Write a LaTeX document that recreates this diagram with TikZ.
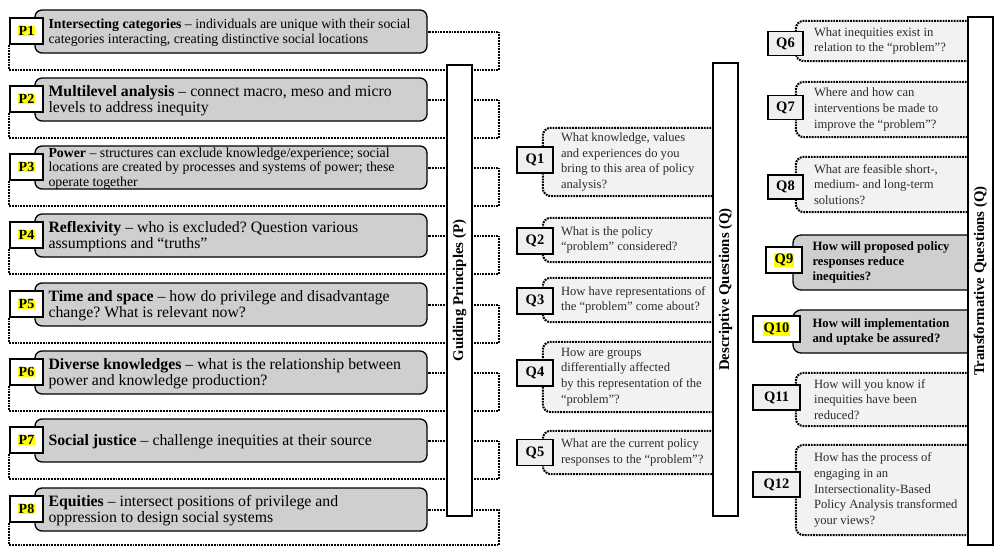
\documentclass[tikz,border=0pt]{standalone}
\usepackage{fontspec}
\setmainfont{Liberation Serif}
\definecolor{pgray}{HTML}{CFCFCF}
\definecolor{qfill}{HTML}{F2F2F2}
\definecolor{lblq}{HTML}{EFEFEF}
\definecolor{hly}{HTML}{FFFF00}
\definecolor{qtxt}{HTML}{2B2B2B}
\newcommand{\hlmark}[1]{{\setlength{\fboxsep}{0.6pt}\colorbox{hly}{#1}}}
\frenchspacing
\begin{document}
\begin{tikzpicture}[x=1pt,y=-1pt,
  pbox/.style={draw=black, line width=1.3pt, fill=pgray, rounded corners=7pt,
    minimum width=392pt, minimum height=43pt, inner sep=0pt},
  ptext/.style={anchor=west, align=left, inner sep=0pt},
  psmall/.style={font=\fontsize{13.8}{14.6}\selectfont},
  plarge/.style={font=\fontsize{15.8}{16}\selectfont},
  plabel/.style={draw=black, line width=1.7pt, fill=white, minimum width=33pt,
    minimum height=26pt, inner sep=0pt, font=\bfseries\fontsize{14}{14}\selectfont},
  qlabel/.style={draw=black, line width=1.7pt, fill=lblq, minimum width=36pt,
    minimum height=26pt, inner sep=0pt, font=\bfseries\fontsize{14.5}{14.5}\selectfont},
  pdot/.style={line width=2pt, dash pattern=on 1.8pt off 1.0pt},
  qbox/.style={fill=qfill, rounded corners=8pt, inner sep=0pt},
  qleft/.style={qbox, minimum width=182pt},
  qright/.style={qbox, minimum width=184.5pt},
  qtext/.style={anchor=west, align=left, inner sep=0pt, text=qtxt,
    font=\fontsize{12.6}{15.7}\selectfont},
  qstrong/.style={draw=black, line width=1.3pt, fill=pgray, rounded corners=8pt,
    inner sep=0pt, minimum width=187.5pt},
  qstext/.style={anchor=west, align=left, inner sep=0pt,
    font=\bfseries\fontsize{12.7}{15}\selectfont},
  bar/.style={draw=black, line width=2pt, fill=white, rotate=90, minimum height=25pt,
    inner sep=0pt, font=\bfseries\fontsize{14.8}{14.8}\selectfont}
]
\useasboundingbox (0,0) rectangle (994,546);

% ---------------- Guiding principles ----------------
\foreach \n/\y in {1/31.5,2/99.5,3/167.5,4/235.5,5/304.5,6/372.5,7/440.5,8/509.5}{
  \node[pbox] (p\n) at (231,\y) {};
}
\node[ptext, psmall] (p1t) at ([xshift=14pt,yshift=-1pt]p1.west)
  {\textbf{Intersecting categories} -- individuals are unique with their social\\categories interacting, creating distinctive social locations};
\node[ptext, plarge] (p2t) at ([xshift=14pt,yshift=-1pt]p2.west)
  {\textbf{Multilevel analysis} -- connect macro, meso and micro\\levels to address inequity};
\node[ptext, psmall] (p3t) at ([xshift=14pt,yshift=-1pt]p3.west)
  {\textbf{Power} -- structures can exclude knowledge/experience; social\\locations are created by processes and systems of power; these\\operate together};
\node[ptext, plarge] (p4t) at ([xshift=14pt,yshift=-1pt]p4.west)
  {\textbf{Reflexivity} -- who is excluded? Question various\\assumptions and ``truths''};
\node[ptext, plarge] (p5t) at ([xshift=14pt,yshift=-1pt]p5.west)
  {\textbf{Time and space} -- how do privilege and disadvantage\\change? What is relevant now?};
\node[ptext, plarge] (p6t) at ([xshift=14pt,yshift=-1pt]p6.west)
  {\textbf{Diverse knowledges} -- what is the relationship between\\power and knowledge production?};
\node[ptext, plarge] (p7t) at ([xshift=14pt,yshift=-1pt]p7.west)
  {\textbf{Social justice} -- challenge inequities at their source};
\node[ptext, plarge] (p8t) at ([xshift=14pt,yshift=-1pt]p8.west)
  {\textbf{Equities} -- intersect positions of privilege and\\oppression to design social systems};

\node[plabel] (p1l) at (26.5,31) {\hlmark{P1}};
\node[plabel] (p2l) at (26.5,99) {\hlmark{P2}};
\node[plabel] (p3l) at (26.5,167) {\hlmark{P3}};
\node[plabel] (p4l) at (26.5,235) {\hlmark{P4}};
\node[plabel] (p5l) at (26.5,304) {\hlmark{P5}};
\node[plabel] (p6l) at (26.5,372) {\hlmark{P6}};
\node[plabel] (p7l) at (26.5,440) {\hlmark{P7}};
\node[plabel] (p8l) at (26.5,509) {\hlmark{P8}};

\foreach \n/\b in {1/70,2/138,3/206,4/274,5/343,6/411,7/479,8/545}{
  \coordinate (pc\n) at (499,\b);
  \draw[pdot] (p\n l.south west) |- (pc\n) |- (p\n.east);
}

% ---------------- Descriptive questions ----------------
\node[qleft, minimum height=68pt] (q1) at (634,162) {};
\node[qleft, minimum height=44pt] (q2) at (634,240) {};
\node[qleft, minimum height=44pt] (q3) at (634,300) {};
\node[qleft, minimum height=70pt] (q4) at (634,377) {};
\node[qleft, minimum height=43pt] (q5) at (634,452.5) {};

% ---------------- Transformative questions ----------------
\node[qright, minimum height=40pt] (q6) at (888.25,41) {};
\node[qright, minimum height=55pt] (q7) at (888.25,109.5) {};
\node[qright, minimum height=55pt] (q8) at (888.25,184.5) {};
\node[qstrong, minimum height=55pt] (q9) at (886.75,262.5) {};
\node[qstrong, minimum height=43pt] (q10) at (886.75,331.5) {};
\node[qright, minimum height=53pt] (q11) at (888.25,399.5) {};
\node[qright, minimum height=90pt] (q12) at (888.25,490) {};

\foreach \q in {q1,q2,q3,q4,q5,q6,q7,q8,q11,q12}{
  \draw[pdot, rounded corners=8pt] (\q.north east) -- (\q.north west) -- (\q.south west) -- (\q.south east);
}

\node[qtext] (q1t) at ([xshift=18pt]q1.west)
  {What knowledge, values\\and experiences do you\\bring to this area of policy\\analysis?};
\node[qtext] (q2t) at ([xshift=18pt]q2.west)
  {What is the policy\\``problem'' considered?};
\node[qtext] (q3t) at ([xshift=18pt]q3.west)
  {How have representations of\\the ``problem'' come about?};
\node[qtext] (q4t) at ([xshift=18pt]q4.west)
  {How are groups\\differentially affected\\by this representation of the\\``problem''?};
\node[qtext] (q5t) at ([xshift=18pt]q5.west)
  {What are the current policy\\responses to the ``problem''?};
\node[qtext] (q6t) at ([xshift=18pt]q6.west)
  {What inequities exist in\\relation to the ``problem''?};
\node[qtext] (q7t) at ([xshift=18pt]q7.west)
  {Where and how can\\interventions be made to\\improve the ``problem''?};
\node[qtext] (q8t) at ([xshift=18pt]q8.west)
  {What are feasible short-,\\medium- and long-term\\solutions?};
\node[qstext] (q9t) at ([xshift=20pt]q9.west)
  {How will proposed policy\\responses reduce\\inequities?};
\node[qstext] (q10t) at ([xshift=20pt]q10.west)
  {How will implementation\\and uptake be assured?};
\node[qtext] (q11t) at ([xshift=18pt]q11.west)
  {How will you know if\\inequities have been\\reduced?};
\node[qtext] (q12t) at ([xshift=18pt]q12.west)
  {How has the process of\\engaging in an\\Intersectionality-Based\\Policy Analysis transformed\\your views?};

% ---------------- Bars ----------------
\node[bar, minimum width=451pt] (barP) at (459.5,290.5) {Guiding Principles (P)};
\node[bar, minimum width=453pt] (barD) at (725.5,289.5) {Descriptive Questions (Q)};
\node[bar, minimum width=528pt] (barT) at (980.5,281) {Transformative Questions (Q)};

% ---------------- Q labels ----------------
\node[qlabel] (q1l) at (535,160) {Q1};
\node[qlabel] (q2l) at (535,241) {Q2};
\node[qlabel] (q3l) at (535,301) {Q3};
\node[qlabel] (q4l) at (535,373) {Q4};
\node[qlabel] (q5l) at (535,452.5) {Q5};
\node[qlabel, minimum width=35pt, minimum height=24pt] (q6l) at (785.5,43.5) {Q6};
\node[qlabel, minimum width=35pt, minimum height=24pt] (q7l) at (785.5,107.5) {Q7};
\node[qlabel, minimum width=35pt, minimum height=24pt] (q8l) at (785.5,187) {Q8};
\node[qlabel, fill=white] (q9l) at (784,260) {\hlmark{Q9}};
\node[qlabel, fill=white, minimum width=47pt] (q10l) at (776.5,329) {\hlmark{Q10}};
\node[qlabel, minimum width=47pt, minimum height=25pt] (q11l) at (776.5,397.5) {Q11};
\node[qlabel, minimum width=47pt, minimum height=25pt] (q12l) at (776.5,484.5) {Q12};
\end{tikzpicture}
\end{document}
